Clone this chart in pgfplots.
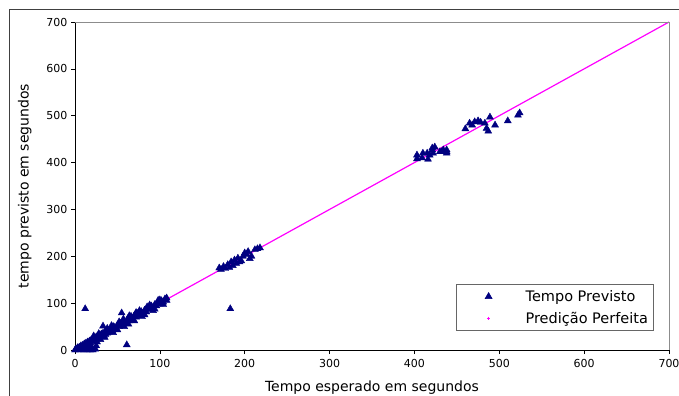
\documentclass[border=0pt]{standalone}
\usepackage{pgfplots}
\pgfplotsset{compat=1.18}
\usepackage{fontspec}
\setmainfont{DejaVu Sans}
\definecolor{navy}{RGB}{0,0,128}
\definecolor{mag}{RGB}{255,0,255}
\begin{document}
\begin{tikzpicture}
\useasboundingbox (0,0) rectangle (679bp,396bp);
\draw[black!75, line width=0.8bp] (9bp,0) -- (9bp,387bp) -- (679bp,387bp);
\begin{axis}[
  at={(75bp,46bp)}, anchor=origin,
  scale only axis, width=594bp, height=328bp,
  xmin=0, xmax=700, ymin=0, ymax=700,
  axis lines*=left,
  axis line style={black, line width=0.6bp},
  tick align=outside, major tick length=4bp,
  tick style={black, line width=0.6bp},
  xtick={0,100,...,700}, ytick={0,100,...,700},
  /pgf/number format/assume math mode=true,
  tick label style={font=\fontsize{11bp}{13bp}\selectfont},
  xticklabel style={yshift=-2bp},
  label style={font=\fontsize{14bp}{16bp}\selectfont},
  xlabel={Tempo esperado em segundos},
  ylabel={tempo previsto em segundos},
  xlabel style={at={(axis description cs:0.5,0)}, anchor=north, yshift=-27bp},
  ylabel style={at={(axis description cs:0,0.5)}, anchor=south, yshift=40bp},
  clip=false,
  after end axis/.code={\draw[black!45, line width=0.8bp] (rel axis cs:0,1) -- (rel axis cs:1,1) -- (rel axis cs:1,0);},
  legend style={at={(0.9735,0.201)}, anchor=north east, draw=black!60, line width=0.6bp,
    font=\fontsize{14.5bp}{16bp}\selectfont, inner xsep=3bp, inner ysep=4bp,
    row sep=5bp, cells={anchor=west}},
]
\addplot[only marks, mark=triangle*, mark size=4bp, navy, mark options={fill=navy, draw=navy},
  legend image code/.code={\path[draw=none,fill=none] (0bp,0) -- (64bp,0); \path[draw=none,fill=none] plot[mark=triangle*, mark size=4bp, mark options={fill=navy,draw=navy}] coordinates {(29bp,0)};}]
coordinates {
(0,0) (1,2) (2,1) (3,5) (4,3) (5,6) (6,4) (7,9) (8,6) (9,10) (10,8) (11,13) (12,10) (13,15) (14,12) (15,17) (16,13) (17,19) (18,15) (19,21) (20,18) (21,24) (22,20) (23,25) (24,22) (25,28) (26,23) (27,30) (28,26) (29,31) (30,28) (31,34) (32,29) (33,36) (34,31) (35,38) (36,33) (37,40) (38,36) (39,42) (40,38) (42,45) (44,42) (46,49) (48,46) (50,53) (52,50) (54,57) (56,53) (58,61) (60,58) (62,66) (64,62) (66,69) (68,65) (70,74) (72,70) (74,78) (76,74) (78,82) (80,78) (82,85) (84,81) (86,89) (88,86) (90,94) (92,89) (94,97) (96,94) (98,101) (100,98) (102,105) (104,102) (106,109) (108,106) (108,111)
(22,30) (30,22) (38,46) (45,37) (52,60) (58,50) (64,73) (70,62) (76,84) (82,75) (88,96) (94,87) (100,107) (104,97) (17,9) (26,17) (35,27) (43,52) (50,43) (57,66) (63,55) (72,80) (79,71) (85,92) (92,84) (98,106)
(5,0) (10,0) (14,0) (18,0) (21,0) (24,2) (15,3) (20,5) (25,9) (12,2) (8,2)
(12,88) (55,79) (33,51) (61,11) (28,35) (45,50) (66,72)
(170,175) (172,172) (175,178) (177,174) (180,182) (182,176) (184,188) (186,180) (188,192) (190,185) (192,196) (194,188) (196,190) (198,200) (200,207) (202,204) (204,210) (206,195) (208,200) (212,214) (215,216) (218,218) (183,88)
(403,408) (403,416) (409,410) (410,420) (415,420) (416,407) (418,416) (421,427) (421,431) (422,420) (424,433) (430,423) (432,423) (434,427) (438,427) (438,420) (438,423)
(460,472) (465,484) (468,480) (471,487) (475,489) (478,486) (483,484) (485,473) (487,467) (489,497) (495,480) (510,489) (522,501) (524,506)
};
\addlegendentry{Tempo Previsto}
\addplot[mag, line width=1.2bp, no marks,
  legend image code/.code={\path[draw=none,fill=none] (0bp,0) -- (64bp,0); \path[draw=none,fill=none] plot[mark=+, mark size=1.5bp, mark options={draw=mag, line width=0.5bp}] coordinates {(29bp,0)};}]
coordinates {(0,0) (100,100) (200,200) (300,300) (400,400) (500,500) (600,600) (700,700)};
\addlegendentry{Predição Perfeita}
\end{axis}
\end{tikzpicture}
\end{document}
